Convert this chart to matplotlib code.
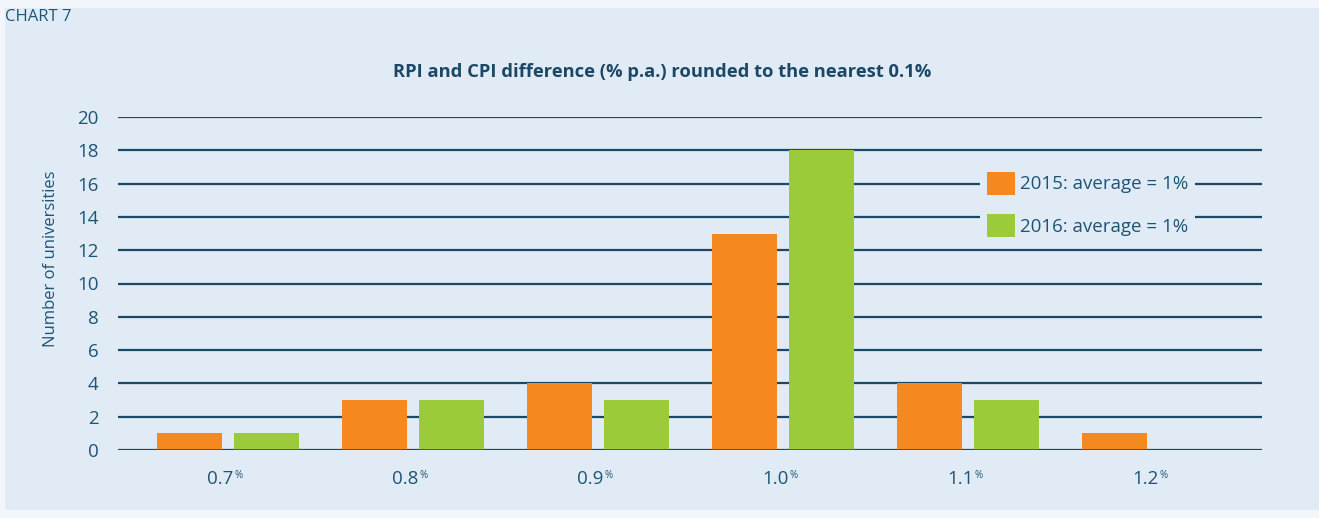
import matplotlib.pyplot as plt
import matplotlib.patches as mpatches
import numpy as np
from matplotlib import font_manager

# data
categories = ["0.7", "0.8", "0.9", "1.0", "1.1", "1.2"]
counts_2015 = [1, 3, 4, 13, 4, 1]
counts_2016 = [1, 3, 3, 18, 3, 0]
labels = ["2015: average = 1%", "2016: average = 1%"]

names = {f.name for f in font_manager.fontManager.ttflist}
fam = ["Liberation Sans Narrow"] if "Liberation Sans Narrow" in names else ["Open Sans"]
plt.rcParams["font.family"] = fam + ["DejaVu Sans"]

txt = "#1d5577"
grid_c = "#1c4866"
bg = "#e1ebf5"
orange = "#f5891f"
green = "#9bcb3b"

W, H = 1319, 518
fig = plt.figure(figsize=(W / 100, H / 100), dpi=100, facecolor="#f2f6fb")
fig.patches.append(mpatches.Rectangle((5 / W, 8 / H), 1 - 5 / W, 1 - 16 / H,
                                      transform=fig.transFigure, facecolor=bg,
                                      edgecolor="none", zorder=-5))

ax = fig.add_axes([118 / W, 1 - 450 / H, (1262 - 118) / W, (450 - 117) / H])
ax.patch.set_visible(False)

x = np.arange(len(categories))
off, bw = 0.208, 0.35
b1 = ax.bar(x - off, counts_2015, bw, color=orange, zorder=2)
b2 = ax.bar(x + off, counts_2016, bw, color=green, zorder=2)

ax.set_xlim(-0.595, len(categories) - 1 + 0.59)
ax.set_ylim(0, 20)
ax.set_yticks(range(0, 21, 2))
ax.yaxis.grid(True, color=grid_c, linewidth=1.6, zorder=1)
ax.set_axisbelow(True)
ax.axhline(0, color=grid_c, linewidth=1.8, zorder=3)
for s in ax.spines.values():
    s.set_visible(False)
ax.tick_params(axis="both", length=0, labelsize=13.5, labelcolor=txt)
ax.tick_params(axis="y", pad=14)
ax.set_xticks(x)
ax.set_xticklabels([])
for xi, c in zip(x, categories):
    ax.annotate(c, xy=(xi, 0), xycoords=("data", "axes fraction"),
                xytext=(4, -21), textcoords="offset points", fontsize=13.5,
                color=txt, ha="right", va="center")
    ax.annotate("%", xy=(xi, 0), xycoords=("data", "axes fraction"),
                xytext=(4.5, -18), textcoords="offset points", fontsize=7,
                color=txt, ha="left", va="center")

ax.set_ylabel("Number of universities", fontsize=12, color=txt)
ax.yaxis.set_label_coords(-0.052, 0.575)

leg = ax.legend([b1, b2], labels, loc="upper right", bbox_to_anchor=(0.94, 0.85),
                frameon=True, fontsize=13.5, labelcolor=txt, handlelength=1.5,
                handleheight=1.5, handletextpad=0.3, labelspacing=1.05,
                borderpad=0.25, borderaxespad=0)
leg.get_frame().set_facecolor(bg)
leg.get_frame().set_edgecolor("none")
leg.get_frame().set_alpha(1)
leg.get_frame().set_boxstyle("square", pad=0.1)

fig.text(662 / W, 1 - 72 / H, "RPI and CPI difference (% p.a.) rounded to the nearest 0.1%",
         ha="center", va="center", fontsize=13.2, fontweight="bold", color=grid_c)
fig.text(5 / W, 1 - 17 / H, "CHART 7", ha="left", va="center", fontsize=12, color=txt)

fig.savefig("out.png", dpi=100, facecolor=fig.get_facecolor())
